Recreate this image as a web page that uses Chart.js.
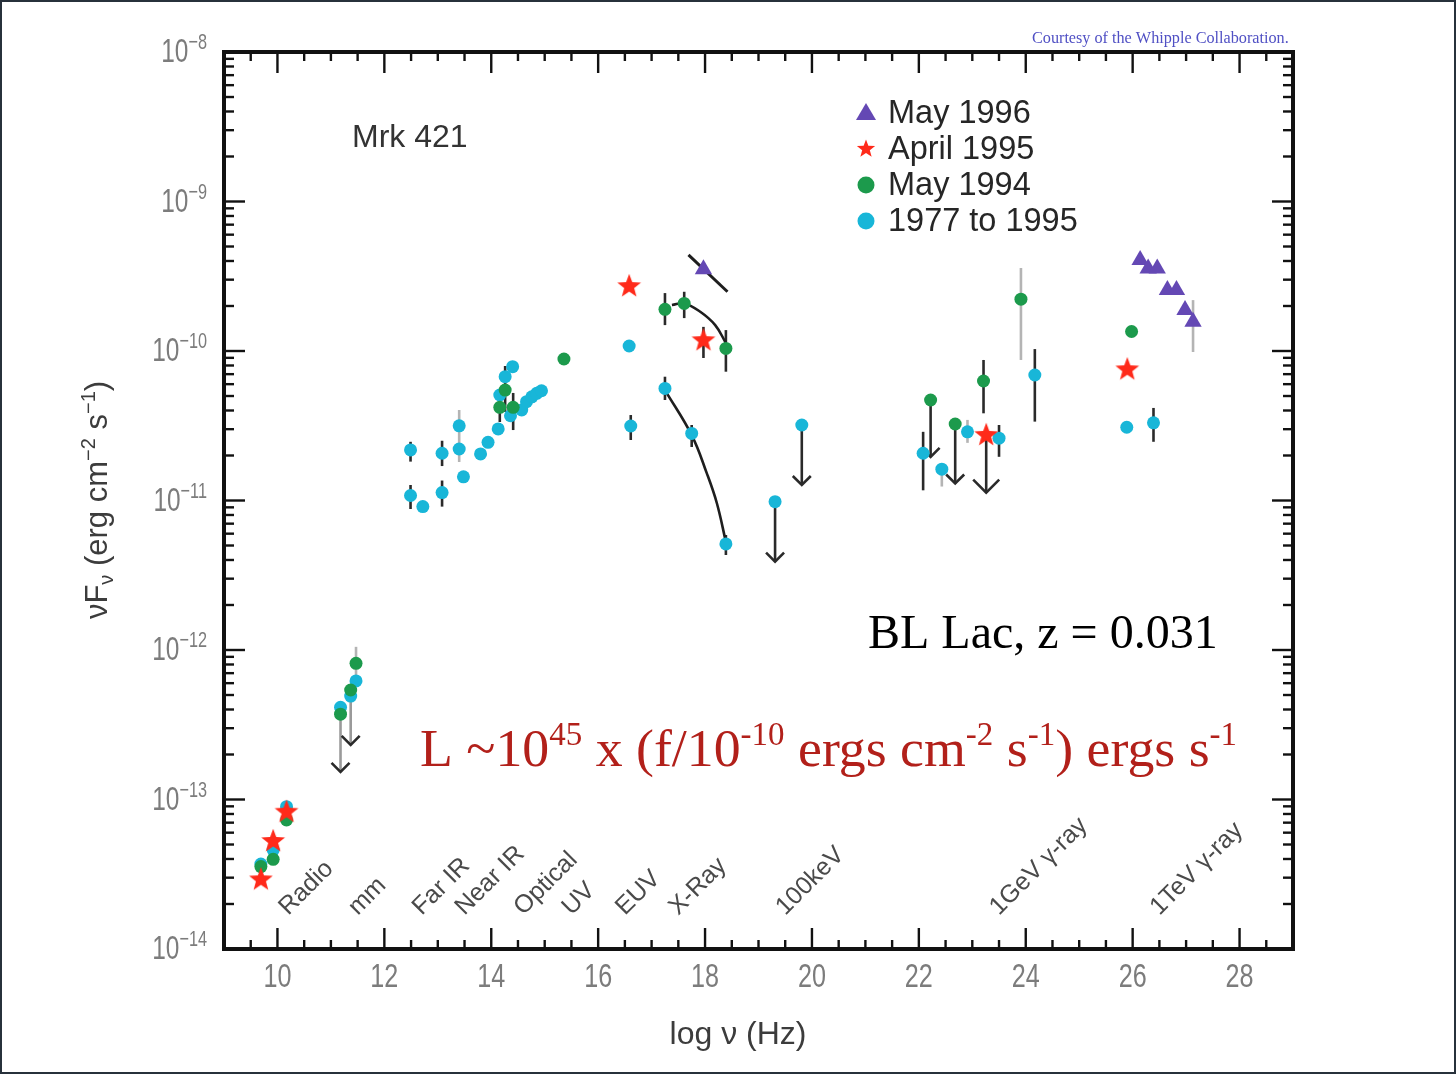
<!DOCTYPE html>
<html>
<head>
<meta charset="utf-8">
<script src="https://cdn.jsdelivr.net/npm/chart.js@4.4.1/dist/chart.umd.min.js"></script>
<style>
  html, body { margin: 0; padding: 0; background: #ffffff; }
  #wrap { position: relative; width: 1456px; height: 1074px; }
</style>
</head>
<body>
<div id="wrap"><canvas id="sed" width="1456" height="1074"></canvas></div>
<script>
// Mrk 421 spectral energy distribution: log ν (Hz) against νFν (erg cm^-2 s^-1)

// May 1996 campaign
const may1996X = [17.97, 26.14, 26.29, 26.46, 26.65, 26.82, 26.98, 27.13];
const may1996Y = [3.52e-10, 4.06e-10, 3.57e-10, 3.57e-10, 2.56e-10, 2.56e-10, 1.88e-10, 1.57e-10];

// April 1995 campaign
const april1995X = [9.69, 9.92, 10.17, 16.58, 17.97, 23.26, 25.90];
const april1995Y = [2.97e-14, 5.36e-14, 8.41e-14, 2.76e-10, 1.20e-10, 2.79e-11, 7.66e-11];

// May 1994 campaign
const may1994X = [9.69, 9.92, 10.17, 11.18, 11.37, 11.47, 14.16, 14.26, 14.41, 15.36,
                  17.25, 17.61, 18.39, 22.22, 22.68, 23.21, 23.91, 25.98];
const may1994Y = [3.56e-14, 3.98e-14, 7.30e-14, 3.72e-13, 5.40e-13, 8.15e-13, 4.20e-11, 5.48e-11, 4.20e-11, 8.84e-11,
                  1.90e-10, 2.08e-10, 1.04e-10, 4.70e-11, 3.25e-11, 6.30e-11, 2.22e-10, 1.35e-10];

// Archival data, 1977 to 1995
const archiveX = [9.69, 9.92, 10.17, 11.18, 11.37, 11.47, 12.49, 12.49, 12.72, 13.08,
                  13.08, 13.40, 13.40, 13.48, 13.80, 13.94, 14.13, 14.16, 14.26, 14.40,
                  14.36, 14.57, 14.66, 14.76, 14.85, 14.94, 16.58, 16.61, 17.25, 17.75,
                  18.39, 19.31, 19.81, 22.08, 22.43, 22.91, 23.50, 24.17, 25.89, 26.39];
const archiveY = [3.70e-14, 4.59e-14, 8.95e-14, 4.14e-13, 4.92e-13, 6.21e-13, 2.18e-11, 1.08e-11, 9.1e-12, 2.07e-11,
                  1.13e-11, 3.16e-11, 2.21e-11, 1.44e-11, 2.05e-11, 2.45e-11, 3.01e-11, 5.08e-11, 6.73e-11, 7.85e-11,
                  3.69e-11, 4.03e-11, 4.58e-11, 4.94e-11, 5.21e-11, 5.42e-11, 1.08e-10, 3.15e-11, 5.62e-11, 2.81e-11,
                  5.12e-12, 9.82e-12, 3.20e-11, 2.07e-11, 1.62e-11, 2.88e-11, 2.61e-11, 6.91e-11, 3.09e-11, 3.31e-11];

// Spectral fits in the X-ray band
const fitArchiveX = [17.25, 17.75, 18.03, 18.22, 18.39];
const fitArchiveY = [5.48e-11, 2.74e-11, 1.53e-11, 9.62e-12, 5.28e-12];
const fit1994X = [17.38, 17.61, 17.91, 18.19, 18.39];
const fit1994Y = [2.03e-10, 2.08e-10, 1.83e-10, 1.49e-10, 1.13e-10];
const fit1996X = [17.69, 18.42];
const fit1996Y = [4.39e-10, 2.49e-10];

// Error bars: log ν, lower and upper νFν
const errX  = [12.49, 12.49, 13.08, 13.08, 14.26, 14.16, 14.41, 16.61, 17.25, 17.61,
               17.97, 18.39, 17.25, 17.75, 18.39, 22.08, 23.21, 23.50, 24.17, 26.39];
const errLo = [1.82e-11, 8.77e-12, 1.70e-11, 9.1e-12, 3.91e-11, 3.35e-11, 2.96e-11, 2.54e-11, 1.49e-10, 1.66e-10,
               8.98e-11, 7.27e-11, 4.70e-11, 2.28e-11, 4.32e-12, 1.17e-11, 3.83e-11, 1.96e-11, 3.37e-11, 2.47e-11];
const errHi = [2.47e-11, 1.27e-11, 2.51e-11, 1.36e-11, 7.94e-11, 5.08e-11, 5.24e-11, 3.73e-11, 2.44e-10, 2.49e-10,
               1.45e-10, 1.38e-10, 6.73e-11, 3.20e-11, 5.88e-12, 2.88e-11, 8.71e-11, 3.20e-11, 1.03e-10, 4.16e-11];
// Error bars printed in grey
const faintErrX  = [11.47, 13.40, 22.43, 22.91, 23.91, 27.13];
const faintErrLo = [6.2e-13, 1.81e-11, 1.24e-11, 2.43e-11, 8.71e-11, 9.85e-11];
const faintErrHi = [1.05e-12, 4.03e-11, 1.78e-11, 3.46e-11, 3.59e-10, 2.19e-10];

// Upper limits: log ν, measured value, arrow tip
const limitX    = [11.18, 11.37, 19.31, 19.81, 22.22, 22.68, 23.26];
const limitFrom = [3.72e-13, 4.92e-13, 9.82e-12, 3.20e-11, 4.70e-11, 3.25e-11, 2.79e-11];
const limitTo   = [1.53e-13, 2.32e-13, 3.90e-12, 1.27e-11, 1.96e-11, 1.30e-11, 1.13e-11];

// Axis ticks
const xTickLabels = [10, 12, 14, 16, 18, 20, 22, 24, 26, 28];
const yTickExponents = [-8, -9, -10, -11, -12, -13, -14];

// Waveband names along the frequency axis
const bandNames = ['Radio', 'mm', 'Far IR', 'Near IR', 'Optical', 'UV', 'EUV', 'X-Ray', '100keV', '1GeV \u03b3-ray', '1TeV \u03b3-ray'];
const bandAt    = [10.2, 11.5, 12.7, 13.5, 14.6, 15.5, 16.5, 17.5, 19.5, 23.5, 26.5];

const PURPLE = '#6448b4';
const RED = '#ff2a1a';
const GREEN = '#1c9a4c';
const CYAN = '#18b6d8';

function pts(xs, ys) { return xs.map((x, i) => ({ x: x, y: ys[i] })); }

function makeStar(size, color) {
  const c = document.createElement('canvas');
  c.width = size; c.height = size;
  const g = c.getContext('2d');
  const cx = size / 2, cy = size / 2 + size * 0.05;
  const R = size * 0.48, r = R * 0.42;
  g.fillStyle = color;
  g.beginPath();
  for (let i = 0; i < 10; i++) {
    const rad = (i % 2) ? r : R;
    const a = -Math.PI / 2 + i * Math.PI / 5;
    g.lineTo(cx + rad * Math.cos(a), cy + rad * Math.sin(a));
  }
  g.closePath();
  g.fill();
  return c;
}
const starMark = makeStar(26, RED);
const starLegend = makeStar(20, RED);

function richText(ctx, parts, x, y, align, family, sx) {
  ctx.save();
  ctx.translate(x, y);
  ctx.scale(sx || 1, 1);
  let total = 0;
  const widths = parts.map(p => {
    ctx.font = (p.w || '') + ' ' + p.s + 'px ' + family;
    const w = ctx.measureText(p.t).width;
    total += w;
    return w;
  });
  let cx = align === 'center' ? -total / 2 : (align === 'right' ? -total : 0);
  ctx.textAlign = 'left';
  parts.forEach((p, i) => {
    ctx.font = (p.w || '') + ' ' + p.s + 'px ' + family;
    ctx.fillText(p.t, cx, p.dy || 0);
    cx += widths[i];
  });
  ctx.restore();
}

const axesPlugin = {
  id: 'sedAxes',
  beforeDatasetsDraw(chart) {
    const ctx = chart.ctx;
    const xs = chart.scales.x, ys = chart.scales.y;
    ctx.save();
    // error bars
    ctx.lineCap = 'butt';
    ctx.lineWidth = 2.6;
    ctx.strokeStyle = '#b4b4b4';
    faintErrX.forEach((x, i) => {
      const px = xs.getPixelForValue(x);
      ctx.beginPath();
      ctx.moveTo(px, ys.getPixelForValue(faintErrLo[i]));
      ctx.lineTo(px, ys.getPixelForValue(faintErrHi[i]));
      ctx.stroke();
    });
    ctx.strokeStyle = '#2a2a2a';
    errX.forEach((x, i) => {
      const px = xs.getPixelForValue(x);
      ctx.beginPath();
      ctx.moveTo(px, ys.getPixelForValue(errLo[i]));
      ctx.lineTo(px, ys.getPixelForValue(errHi[i]));
      ctx.stroke();
    });
    // upper limits
    limitX.forEach((x, i) => {
      const px = xs.getPixelForValue(x);
      const p0 = ys.getPixelForValue(limitFrom[i]);
      const p1 = ys.getPixelForValue(limitTo[i]);
      ctx.strokeStyle = x < 12 ? '#9a9a9a' : '#2a2a2a';
      ctx.beginPath();
      ctx.moveTo(px, p0);
      ctx.lineTo(px, p1);
      ctx.stroke();
      const h = x > 23 ? 13 : 9;
      ctx.strokeStyle = '#2a2a2a';
      ctx.beginPath();
      ctx.moveTo(px - h, p1 - h);
      ctx.lineTo(px, p1);
      ctx.lineTo(px + h, p1 - h);
      ctx.stroke();
    });
    ctx.restore();
  },
  afterDatasetsDraw(chart) {
    const ctx = chart.ctx, a = chart.chartArea;
    const xs = chart.scales.x, ys = chart.scales.y;
    ctx.save();
    ctx.strokeStyle = '#111';
    ctx.lineWidth = 2.4;
    const tick = (x0, y0, x1, y1) => { ctx.beginPath(); ctx.moveTo(x0, y0); ctx.lineTo(x1, y1); ctx.stroke(); };
    // frequency ticks every 0.5, major at even values
    for (let k = 19; k <= 57; k++) {
      const v = k / 2;
      const major = (k % 4 === 0);
      const len = major ? 21 : 9;
      const px = xs.getPixelForValue(v);
      tick(px, a.bottom, px, a.bottom - len);
      tick(px, a.top, px, a.top + len);
    }
    // flux ticks per decade
    for (let e = -14; e < -8; e++) {
      for (let m = 1; m < 10; m++) {
        if (m === 1 && e === -14) continue;
        const py = ys.getPixelForValue(m * Math.pow(10, e));
        const len = m === 1 ? 21 : 10;
        tick(a.left, py, a.left + len, py);
        tick(a.right, py, a.right - len, py);
      }
    }
    // frame
    ctx.lineWidth = 4;
    ctx.strokeRect(a.left, a.top, a.right - a.left, a.bottom - a.top);

    // tick labels
    ctx.fillStyle = '#7c7c7c';
    ctx.textBaseline = 'middle';
    xTickLabels.forEach(v => {
      richText(ctx, [{ t: String(v), s: 34 }], xs.getPixelForValue(v), a.bottom + 29, 'center', '"Liberation Sans", Arial, sans-serif', 0.74);
    });
    ctx.textBaseline = 'alphabetic';
    yTickExponents.forEach(e => {
      const py = ys.getPixelForValue(Math.pow(10, e));
      richText(ctx, [{ t: '10', s: 33, dy: 10 }, { t: '\u2212' + Math.abs(e), s: 22, dy: -3 }],
        207, py, 'right', '"Liberation Sans", Arial, sans-serif', 0.74);
    });

    // waveband names
    ctx.fillStyle = '#4a4a4a';
    bandNames.forEach((name, i) => {
      ctx.save();
      ctx.translate(xs.getPixelForValue(bandAt[i]), a.bottom - 33);
      ctx.rotate(-Math.PI / 4);
      ctx.font = '25px "Liberation Sans", Arial, sans-serif';
      ctx.textAlign = 'left';
      ctx.fillText(name, 0, 0);
      ctx.restore();
    });
    ctx.restore();
  },
  afterDraw(chart) {
    const ctx = chart.ctx;
    const sans = '"Liberation Sans", Arial, sans-serif';
    const serif = '"Liberation Serif", "Times New Roman", serif';
    ctx.save();
    // outer frame of the figure
    ctx.strokeStyle = '#27313b';
    ctx.lineWidth = 2;
    ctx.strokeRect(1, 1, chart.width - 2, chart.height - 2);

    // axis titles
    ctx.fillStyle = '#3c3c3c';
    ctx.textBaseline = 'alphabetic';
    richText(ctx, [{ t: 'log \u03bd (Hz)', s: 32 }], 738, 1044, 'center', sans, 1.0);
    ctx.save();
    ctx.translate(107, 500);
    ctx.rotate(-Math.PI / 2);
    richText(ctx, [
      { t: '\u03bdF', s: 31 }, { t: '\u03bd', s: 20, dy: 6 },
      { t: ' (erg cm', s: 31 }, { t: '\u22122', s: 20, dy: -12 },
      { t: ' s', s: 31 }, { t: '\u22121', s: 20, dy: -12 }, { t: ')', s: 31 }
    ], 0, 0, 'center', sans, 1.0);
    ctx.restore();

    // object name
    ctx.fillStyle = '#333';
    ctx.font = '32px ' + sans;
    ctx.fillText('Mrk 421', 352, 147);

    // legend built from the data series
    const rows = chart.data.datasets.filter(d => d.inLegend);
    rows.forEach((d, i) => {
      const cy = 112 + i * 36;
      const cx = 866;
      ctx.fillStyle = d.backgroundColor;
      if (d.pointStyle === 'triangle') {
        ctx.beginPath();
        ctx.moveTo(cx, cy - 9);
        ctx.lineTo(cx + 10, cy + 8);
        ctx.lineTo(cx - 10, cy + 8);
        ctx.closePath();
        ctx.fill();
      } else if (d.pointStyle === 'circle') {
        ctx.beginPath();
        ctx.arc(cx, cy + 1, 8.5, 0, Math.PI * 2);
        ctx.fill();
      } else {
        ctx.drawImage(starLegend, cx - 10, cy - 10);
      }
      ctx.fillStyle = '#262626';
      ctx.font = '32.5px ' + sans;
      ctx.textBaseline = 'middle';
      ctx.fillText(d.label, 888, cy + 2);
      ctx.textBaseline = 'alphabetic';
    });

    // credit line
    ctx.fillStyle = '#5050c4';
    ctx.font = '16.2px ' + serif;
    ctx.fillText('Courtesy of the Whipple Collaboration.', 1032, 43);

    // source classification
    ctx.fillStyle = '#000';
    ctx.font = '48px ' + serif;
    ctx.fillText('BL Lac, z = 0.031', 868, 648);

    // luminosity scaling
    ctx.fillStyle = '#b2201a';
    richText(ctx, [
      { t: 'L ~10', s: 53.8 }, { t: '45', s: 33, dy: -21 },
      { t: ' x (f/10', s: 53.8 }, { t: '-10', s: 33, dy: -21 },
      { t: ' ergs cm', s: 53.8 }, { t: '-2', s: 33, dy: -21 },
      { t: ' s', s: 53.8 }, { t: '-1', s: 33, dy: -21 },
      { t: ') ergs s', s: 53.8 }, { t: '-1', s: 33, dy: -21 }
    ], 420, 766, 'left', serif, 1);
    ctx.restore();
  }
};

const chart = new Chart(document.getElementById('sed'), {
  type: 'scatter',
  data: {
    datasets: [
      { label: 'May 1996', inLegend: true, data: pts(may1996X, may1996Y), pointStyle: 'triangle',
        pointRadius: 10, backgroundColor: PURPLE, borderColor: PURPLE, borderWidth: 0 },
      { label: 'April 1995', inLegend: true, data: pts(april1995X, april1995Y), pointStyle: starMark,
        pointRadius: 12, backgroundColor: RED, borderColor: RED, borderWidth: 0 },
      { label: 'May 1994', inLegend: true, data: pts(may1994X, may1994Y), pointStyle: 'circle',
        pointRadius: 6.5, backgroundColor: GREEN, borderColor: GREEN, borderWidth: 0 },
      { label: '1977 to 1995', inLegend: true, data: pts(archiveX, archiveY), pointStyle: 'circle',
        pointRadius: 6.5, backgroundColor: CYAN, borderColor: CYAN, borderWidth: 0 },
      { label: 'fit May 1996', data: pts(fit1996X, fit1996Y), showLine: true, pointRadius: 0,
        borderColor: '#1e1e1e', borderWidth: 3, tension: 0 },
      { label: 'fit May 1994', data: pts(fit1994X, fit1994Y), showLine: true, pointRadius: 0,
        borderColor: '#1e1e1e', borderWidth: 2.6, tension: 0.4 },
      { label: 'fit 1977 to 1995', data: pts(fitArchiveX, fitArchiveY), showLine: true, pointRadius: 0,
        borderColor: '#1e1e1e', borderWidth: 2.6, tension: 0.4 }
    ]
  },
  options: {
    responsive: false,
    animation: false,
    devicePixelRatio: 1,
    layout: { padding: { left: 0, top: 52, right: 163, bottom: 0 } },
    plugins: { legend: { display: false }, tooltip: { enabled: false } },
    events: [],
    scales: {
      x: {
        type: 'linear', min: 9, max: 29,
        grid: { display: false }, border: { display: false }, ticks: { display: false },
        afterFit(s) { s.height = 125; }
      },
      y: {
        type: 'logarithmic', min: 1e-14, max: 1e-8,
        grid: { display: false }, border: { display: false }, ticks: { display: false },
        afterFit(s) { s.width = 224; }
      }
    }
  },
  plugins: [axesPlugin]
});
</script>
</body>
</html>
